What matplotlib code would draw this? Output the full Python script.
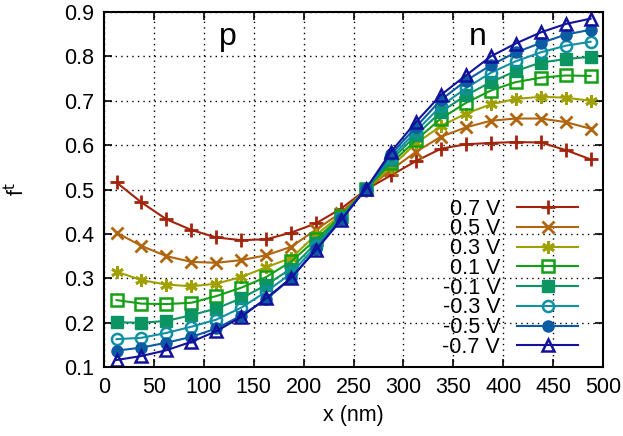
import matplotlib
matplotlib.use("Agg")
import matplotlib.pyplot as plt

plt.rcParams['font.family'] = ['Liberation Sans', 'DejaVu Sans']

x_nm = [12.5, 37.5, 62.5, 87.5, 112.5, 137.5, 162.5, 187.5, 212.5, 237.5,
        262.5, 287.5, 312.5, 337.5, 362.5, 387.5, 412.5, 437.5, 462.5, 487.5]

labels = ['0.7 V', '0.5 V', '0.3 V', '0.1 V', '-0.1 V', '-0.3 V', '-0.5 V', '-0.7 V']

f_07 = [0.516, 0.471, 0.433, 0.409, 0.392, 0.386, 0.388, 0.403, 0.424, 0.457,
        0.500, 0.532, 0.564, 0.592, 0.602, 0.605, 0.607, 0.606, 0.589, 0.568]
f_05 = [0.403, 0.373, 0.350, 0.337, 0.335, 0.341, 0.352, 0.371, 0.410, 0.448,
        0.500, 0.544, 0.585, 0.619, 0.640, 0.655, 0.660, 0.660, 0.652, 0.637]
f_03 = [0.315, 0.296, 0.286, 0.282, 0.288, 0.303, 0.325, 0.346, 0.398, 0.443,
        0.500, 0.551, 0.604, 0.643, 0.671, 0.692, 0.704, 0.709, 0.707, 0.700]
f_01 = [0.251, 0.243, 0.242, 0.245, 0.260, 0.279, 0.303, 0.338, 0.388, 0.440,
        0.501, 0.559, 0.611, 0.660, 0.695, 0.723, 0.742, 0.752, 0.757, 0.756]
f_m01 = [0.201, 0.200, 0.204, 0.217, 0.232, 0.255, 0.285, 0.322, 0.380, 0.437,
         0.501, 0.566, 0.622, 0.675, 0.712, 0.742, 0.767, 0.786, 0.794, 0.799]
f_m03 = [0.163, 0.166, 0.177, 0.191, 0.207, 0.234, 0.270, 0.311, 0.373, 0.435,
         0.502, 0.572, 0.631, 0.688, 0.728, 0.763, 0.789, 0.809, 0.824, 0.833]
f_m05 = [0.137, 0.144, 0.155, 0.168, 0.187, 0.216, 0.253, 0.300, 0.367, 0.433,
         0.502, 0.579, 0.641, 0.702, 0.745, 0.780, 0.809, 0.830, 0.849, 0.860]
f_m07 = [0.116, 0.125, 0.138, 0.157, 0.181, 0.213, 0.255, 0.301, 0.364, 0.431,
         0.502, 0.585, 0.652, 0.713, 0.757, 0.800, 0.829, 0.854, 0.873, 0.885]

series = [f_07, f_05, f_03, f_01, f_m01, f_m03, f_m05, f_m07]
colors = ['#a2240c', '#b0650f', '#a0a000', '#14a014', '#0c9462', '#1090a4', '#0c5ca4', '#12129c']
markers = ['+', 'x', (6, 2, 0), 's', 's', 'o', 'o', '^']
filled = [True, True, True, False, True, False, True, False]

x_ticks = [0, 50, 100, 150, 200, 250, 300, 350, 400, 450, 500]
y_ticks = [0.1, 0.2, 0.3, 0.4, 0.5, 0.6, 0.7, 0.8, 0.9]

fig = plt.figure(figsize=(6.23, 4.36), dpi=100)
ax = fig.add_axes([0.167, 0.158, 0.801, 0.8145])

for y, lab, c, m, fl in zip(series, labels, colors, markers, filled):
    kw = dict(color=c, lw=1.5, marker=m, markersize=8, label=lab)
    if m in ('+', 'x') or isinstance(m, tuple):
        kw.update(markeredgewidth=2.0, markersize=10 if m == '+' else 9)
    elif fl:
        kw.update(markerfacecolor=c, markeredgecolor=c, markeredgewidth=1.0)
    else:
        kw.update(markerfacecolor='none', markeredgecolor=c, markeredgewidth=1.8)
    ax.plot(x_nm, y, **kw)

ax.set_xlim(0, 500)
ax.set_ylim(0.1, 0.9)
ax.set_xticks(x_ticks)
ax.set_yticks(y_ticks)
ax.set_xticklabels([str(t) for t in x_ticks])
ax.set_yticklabels(['%.1f' % t for t in y_ticks])
ax.tick_params(direction='in', length=6, width=1.2, top=True, right=True,
               labelsize=15.5, pad=7)
ax.grid(True, color='black', linestyle=(0, (1, 3)), linewidth=1.0)
for s in ax.spines.values():
    s.set_linewidth(1.5)

ax.set_xlabel('x (nm)', fontsize=15.5, labelpad=5)
ax.set_ylabel(r'f$^{\mathrm{t}}$', fontsize=15.5)
ax.yaxis.set_label_coords(-0.15, 0.5)

ax.text(124, 0.843, 'p', fontsize=23, ha='center', va='center')
ax.text(374, 0.843, 'n', fontsize=23, ha='center', va='center')

leg = ax.legend(loc='lower right', bbox_to_anchor=(0.975, -0.01), frameon=False,
                markerfirst=False, fontsize=15.5, handlelength=2.8,
                handletextpad=0.8, labelspacing=-0.06, borderaxespad=0.2)

fig.savefig('out.png', dpi=100)
